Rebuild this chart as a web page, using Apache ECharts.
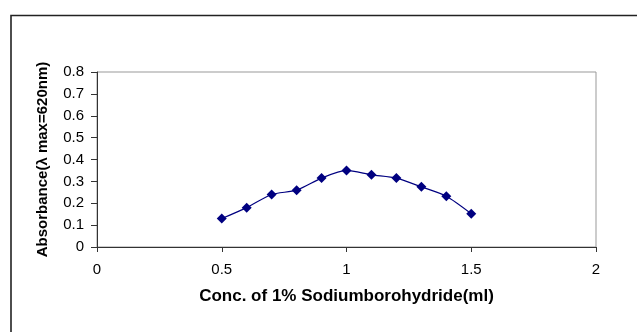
<!DOCTYPE html>
<html>
<head>
<meta charset="utf-8">
<script src="https://cdn.jsdelivr.net/npm/echarts@6/dist/echarts.min.js"></script>
<style>
  html, body { margin: 0; padding: 0; background: #fff; }
  #chart { width: 637px; height: 332px; }
</style>
</head>
<body>
<div id="chart"></div>
<script>
// concentration of 1% sodium borohydride (ml)
var conc = [0.5, 0.6, 0.7, 0.8, 0.9, 1.0, 1.1, 1.2, 1.3, 1.4, 1.5];
// absorbance at 620 nm
var absorbance = [0.13, 0.18, 0.24, 0.26, 0.315, 0.35, 0.33, 0.315, 0.275, 0.232, 0.152];
var xTicks = [0, 0.5, 1, 1.5, 2];
var yTicks = [0, 0.1, 0.2, 0.3, 0.4, 0.5, 0.6, 0.7, 0.8];

var chart = echarts.init(document.getElementById('chart'));
var font = '"Liberation Sans", Arial, sans-serif';

chart.setOption({
  animation: false,
  graphic: [
    {
      // outer chart-area frame, runs off the right and bottom edges
      type: 'rect',
      shape: { x: 11, y: 15.5, width: 640, height: 330 },
      style: { fill: 'none', stroke: '#222', lineWidth: 1.6 },
      silent: true
    }
  ],
  grid: {
    left: 97, right: 41, top: 72, bottom: 85,
    show: true, borderColor: '#999', borderWidth: 1, backgroundColor: '#fff'
  },
  xAxis: {
    type: 'value',
    min: xTicks[0], max: xTicks[xTicks.length - 1], interval: 0.5,
    name: 'Conc. of 1% Sodiumborohydride(ml)',
    nameLocation: 'middle', nameGap: 41,
    nameTextStyle: { fontFamily: font, fontSize: 17, fontWeight: 'bold', color: '#000' },
    axisLine: { lineStyle: { color: '#333', width: 1 } },
    axisTick: { show: true, length: 5, lineStyle: { color: '#333' } },
    axisLabel: { fontFamily: font, fontSize: 15, color: '#000', margin: 15 },
    splitLine: { show: false }
  },
  yAxis: {
    type: 'value',
    min: yTicks[0], max: yTicks[yTicks.length - 1], interval: 0.1,
    name: 'Absorbance(λ max=620nm)',
    nameLocation: 'middle', nameGap: 47, nameRotate: 90,
    nameTextStyle: { fontFamily: font, fontSize: 15, fontWeight: 'bold', color: '#000' },
    axisLine: { show: true, lineStyle: { color: '#333', width: 1 } },
    axisTick: { show: true, length: 6, lineStyle: { color: '#333' } },
    axisLabel: {
      fontFamily: font, fontSize: 15, color: '#000', margin: 13,
      formatter: function (v) { return String(Math.round(v * 10) / 10); }
    },
    splitLine: { show: false }
  },
  series: [
    {
      type: 'line',
      data: conc.map(function (c, i) { return [c, absorbance[i]]; }),
      smooth: 0.25,
      symbol: 'diamond',
      symbolSize: 10,
      lineStyle: { color: '#000080', width: 1.2 },
      itemStyle: { color: '#000080' }
    }
  ]
});
</script>
</body>
</html>
